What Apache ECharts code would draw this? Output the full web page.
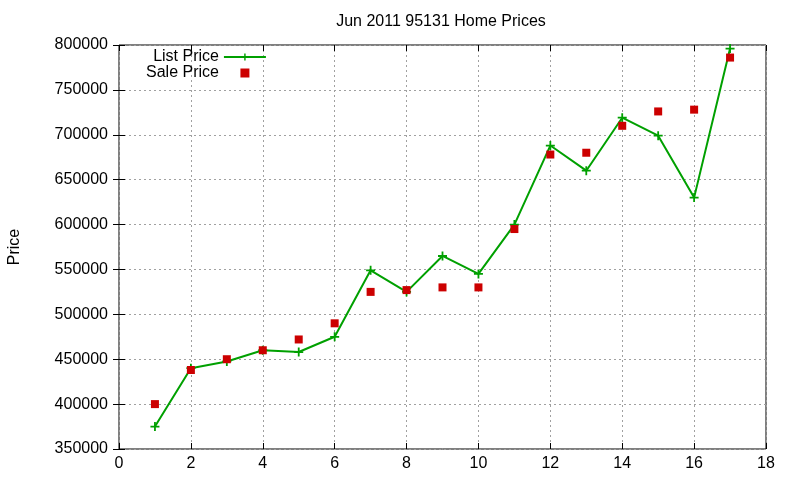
<!DOCTYPE html>
<html>
<head>
<meta charset="utf-8">
<script src="https://cdn.jsdelivr.net/npm/echarts@6/dist/echarts.min.js"></script>
<style>
  html, body { margin: 0; padding: 0; background: #fff; }
  #chart { width: 800px; height: 480px; }
</style>
</head>
<body>
<div id="chart"></div>
<script>
// 月份序号 / 挂牌价 / 成交价
const months = [1, 2, 3, 4, 5, 6, 7, 8, 9, 10, 11, 12, 13, 14, 15, 16, 17];
const listPrice = [375000, 440000, 447500, 460000, 458000, 475000, 549000, 525000, 565000, 545000,
  600000, 688000, 660000, 719000, 699000, 630000, 796000];
const salePrice = [400000, 438000, 450000, 460000, 472000, 490000, 525000, 527000, 530000, 530000,
  595000, 678000, 680000, 710000, 726000, 728000, 786000];

const FONT = 'Liberation Sans, Arial, sans-serif';
const GREEN = '#00a000';
const RED = '#cc0000';
const PLUS = 'path://M3.2,0H4.8V3.2H8V4.8H4.8V8H3.2V4.8H0V3.2H3.2Z';
const SQUARE = 'path://M0,0H8V8H0Z';
const GRID_LINE = { color: '#a0a0a0', type: [2, 3], width: 1 };

const chart = echarts.init(document.getElementById('chart'));

const mirrorAxis = {
  axisLine: { show: false },
  axisLabel: { show: false },
  splitLine: { show: false },
  axisTick: { show: true, inside: true, length: 6, lineStyle: { color: '#000' } },
};

const option = {
  animation: false,
  backgroundColor: '#fff',
  textStyle: { fontFamily: FONT },
  title: {
    text: 'Jun 2011 95131 Home Prices',
    left: 436, top: 9, textAlign: 'center',
    textStyle: { fontSize: 16, fontWeight: 'normal', color: '#000', fontFamily: FONT },
  },
  legend: {
    orient: 'vertical',
    left: 141, top: 44,
    align: 'right',
    itemWidth: 42, itemHeight: 9, itemGap: 0,
    symbolKeepAspect: true,
    lineStyle: { width: 2 },
    textStyle: { fontSize: 16, lineHeight: 16, color: '#000', fontFamily: FONT },
    data: ['List Price', { name: 'Sale Price', icon: SQUARE }],
  },
  grid: {
    left: 119, right: 34, top: 45, bottom: 31,
    outerBoundsMode: 'none', containLabel: false,
    show: true, borderColor: '#000', borderWidth: 1,
  },
  xAxis: [
    {
      type: 'value', min: 0, max: 18, interval: 2,
      axisLine: { show: false },
      axisTick: { show: true, inside: true, length: 6, lineStyle: { color: '#000' } },
      axisLabel: { fontSize: 16, color: '#000', margin: 7, fontFamily: FONT },
      splitLine: { show: true, lineStyle: GRID_LINE },
    },
    Object.assign({ type: 'value', min: 0, max: 18, interval: 2, position: 'top' }, mirrorAxis),
  ],
  yAxis: [
    {
      type: 'value', min: 350000, max: 800000, interval: 50000,
      name: 'Price', nameLocation: 'middle', nameGap: 96, nameRotate: 90,
      nameTextStyle: { fontSize: 16, color: '#000', fontFamily: FONT },
      axisLine: { show: false },
      axisTick: { show: true, inside: true, length: 6, lineStyle: { color: '#000' } },
      axisLabel: { fontSize: 16, color: '#000', margin: 11, fontFamily: FONT, formatter: v => String(v) },
      splitLine: { show: true, lineStyle: GRID_LINE },
    },
    Object.assign({ type: 'value', min: 350000, max: 800000, interval: 50000, position: 'right' }, mirrorAxis),
  ],
  series: [
    {
      name: 'List Price', type: 'line',
      data: months.map((m, i) => [m, listPrice[i]]),
      symbol: PLUS, symbolSize: 9, showAllSymbol: true,
      lineStyle: { color: GREEN, width: 2 },
      itemStyle: { color: GREEN },
      z: 3,
    },
    {
      name: 'Sale Price', type: 'scatter',
      data: months.map((m, i) => [m, salePrice[i]]),
      symbol: SQUARE, symbolSize: 8,
      itemStyle: { color: RED, opacity: 1 },
      z: 4,
    },
  ],
};

chart.setOption(option);
</script>
</body>
</html>
